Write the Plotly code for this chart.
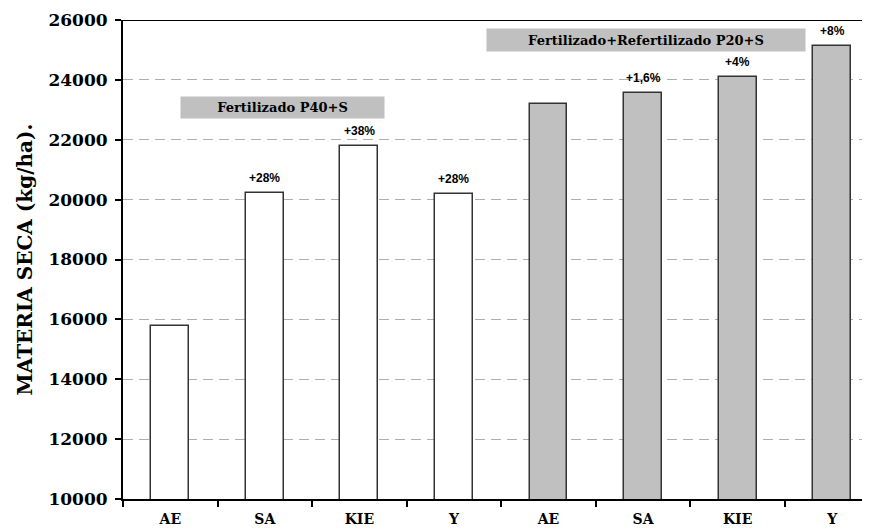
import plotly.graph_objects as go

categories = ["AE", "SA", "KIE", "Y", "AE", "SA", "KIE", "Y"]
values = [15790, 20230, 21800, 20180, 23190, 23570, 24080, 25140]
pct_labels = ["", "+28%", "+38%", "+28%", "", "+1,6%", "+4%", "+8%"]
group_colors = ["#ffffff"] * 4 + ["#c0c0c0"] * 4
y_ticks = [10000, 12000, 14000, 16000, 18000, 20000, 22000, 24000, 26000]
group_titles = ["Fertilizado P40+S", "Fertilizado+Refertilizado P20+S"]

x = list(range(len(categories)))
serif = "DejaVu Serif"

fig = go.Figure()
fig.add_trace(go.Bar(
    x=x, y=values, width=0.4,
    marker=dict(color=group_colors, line=dict(color="#333333", width=1.5)),
    showlegend=False,
))

for xi, v, t in zip(x, values, pct_labels):
    if t:
        fig.add_annotation(x=xi, y=v, text=t, showarrow=False, yanchor="bottom",
                           yshift=6, font=dict(family="Liberation Sans", size=12,
                                               color="#000000", weight="bold"))

# group title boxes
fig.add_annotation(x=1.19, y=23076, text="<b>" + group_titles[0] + "</b>", showarrow=False,
                   width=203, height=21, bgcolor="#c0c0c0", borderpad=0,
                   font=dict(family=serif, size=13, color="#000000"))
fig.add_annotation(x=5.03, y=25330, text="<b>" + group_titles[1] + "</b>", showarrow=False,
                   width=318, height=22, bgcolor="#c0c0c0", borderpad=0,
                   font=dict(family=serif, size=13, color="#000000"))

# top frame line
fig.add_shape(type="line", xref="paper", yref="y", x0=0, x1=1, y0=26000, y1=26000,
              line=dict(color="#000000", width=2))

fig.update_layout(
    width=862, height=522,
    margin=dict(l=115, r=0, t=12, b=31),
    paper_bgcolor="#ffffff", plot_bgcolor="#ffffff",
    bargap=0,
    xaxis=dict(
        range=[-0.5, 7.4], tickvals=x, ticktext=categories,
        showline=True, linecolor="#000000", linewidth=2,
        ticks="", showgrid=False, zeroline=False, ticklabelstandoff=6,
        tickfont=dict(family=serif, size=14, color="#000000", weight="bold"),
        minor=dict(tickvals=[i - 0.5 for i in range(len(categories) + 1)],
                   ticks="outside", ticklen=6, tickwidth=2, tickcolor="#000000",
                   showgrid=False),
    ),
    yaxis=dict(
        range=[10000, 26000], tickvals=y_ticks, tickformat="d",
        showline=True, linecolor="#000000", linewidth=2,
        ticks="outside", ticklen=6, tickwidth=2, tickcolor="#000000",
        showgrid=True, gridcolor="#b0b0b0", gridwidth=1, griddash="10px,6px",
        zeroline=False, ticklabelstandoff=4,
        tickfont=dict(family=serif, size=17, color="#000000", weight="bold"),
        title=dict(text="MATERIA SECA (kg/ha).", standoff=10,
                   font=dict(family=serif, size=20, color="#000000", weight="bold")),
    ),
)

fig.write_html("out.html")
